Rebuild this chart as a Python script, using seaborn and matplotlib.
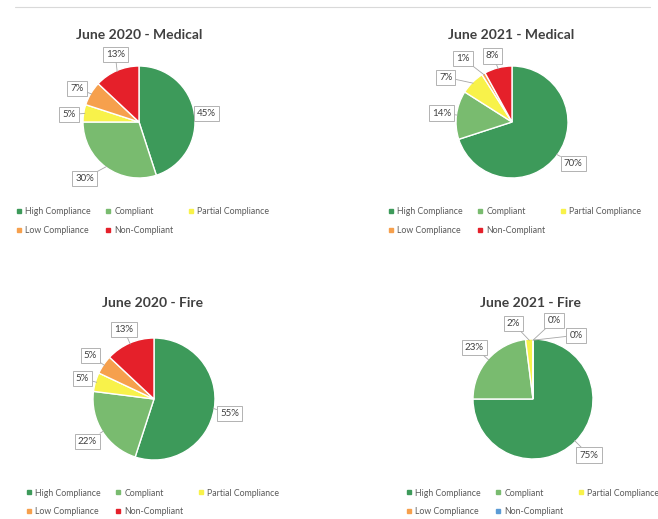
import matplotlib
matplotlib.use("Agg")
import matplotlib.pyplot as plt
from matplotlib.lines import Line2D
import seaborn as sns
import numpy as np

# ---------------- data ----------------
categories = ["High Compliance", "Compliant", "Partial Compliance",
              "Low Compliance", "Non-Compliant"]
titles = ["June 2020 - Medical", "June 2021 - Medical",
          "June 2020 - Fire", "June 2021 - Fire"]
medical_2020 = [45, 30, 5, 7, 13]
medical_2021 = [70, 14, 7, 1, 8]
fire_2020 = [55, 22, 5, 5, 13]
fire_2021 = [75, 23, 2, 0, 0]
series = [medical_2020, medical_2021, fire_2020, fire_2021]

# ---------------- style ----------------
sns.set_theme(style="white")
plt.rcParams['font.family'] = ['Lato', 'DejaVu Sans']

base_colors = ["#3d9a5a", "#79bb6f", "#f8f24a", "#f6a04d", "#e5202a"]
fire21_colors = ["#3d9a5a", "#79bb6f", "#f8f24a", "#f6a04d", "#5b9bd5"]
palettes = [base_colors, base_colors, base_colors, fire21_colors]

W, H = 658, 519
fig = plt.figure(figsize=(W / 100, H / 100), dpi=100)
fig.patch.set_facecolor("white")

# panel layout in pixels: pie centre, radius, title pos, legend pos
centers = [(139, 122), (512, 122), (154, 399), (533, 399)]
radii = [56, 56, 61, 60]
title_pos = [(139, 35), (511, 35), (153, 303), (531, 303)]
legend_pos = [(13, 204), (385, 204), (23, 485), (403, 485)]
# label radial distance (in radii) and angular nudges (deg)
label_r = [[1.21, 1.40, 1.26, 1.26, 1.28],
           [1.32, 1.27, 1.43, 1.43, 1.23],
           [1.26, 1.29, 1.22, 1.26, 1.24],
           [1.32, 1.30, 1.30, 1.35, 1.28]]
label_dt = [[-2, -8, 3, 2, -4],
            [2, 0, 11, 7, 2],
            [-2, 0, 0, 0, 0],
            [0, 0, 11, -15, -34]]

lim = 1.7
for i, vals in enumerate(series):
    cx, cy = centers[i]
    r = radii[i]
    half = lim * r
    ax = fig.add_axes([(cx - half) / W, (H - cy - half) / H, 2 * half / W, 2 * half / H])
    wedges, _ = ax.pie(vals, colors=palettes[i], startangle=90, counterclock=False,
                       wedgeprops=dict(edgecolor="white", linewidth=1.0))
    ax.set_xlim(-lim, lim)
    ax.set_ylim(-lim, lim)
    ax.set_aspect("equal")
    ax.axis("off")
    for j, w in enumerate(wedges):
        mid = (w.theta1 + w.theta2) / 2.0
        ang = np.deg2rad(mid + label_dt[i][j])
        rr = label_r[i][j]
        tx, ty = rr * np.cos(ang), rr * np.sin(ang)
        ex, ey = np.cos(np.deg2rad(mid)), np.sin(np.deg2rad(mid))
        ax.annotate(f"{vals[j]}%", xy=(ex * 0.98, ey * 0.98), xytext=(tx, ty),
                    ha="center", va="center", fontsize=7, color="#404040",
                    bbox=dict(boxstyle="square,pad=0.32", fc="white", ec="#a6a6a6", lw=0.6),
                    arrowprops=dict(arrowstyle="-", color="#a6a6a6", lw=0.6,
                                    shrinkA=0, shrinkB=0),
                    annotation_clip=False)
    fig.text(title_pos[i][0] / W, 1 - title_pos[i][1] / H, titles[i],
             ha="center", va="center", fontsize=10, fontweight="bold", color="#404040")

    handles = [Line2D([0], [0], marker="s", linestyle="", markersize=3.2,
                      markerfacecolor=c, markeredgecolor=c) for c in palettes[i]]
    order = [0, 3, 1, 4, 2]
    lx, ly = legend_pos[i]
    fig.legend([handles[k] for k in order], [categories[k] for k in order],
               ncol=3, loc="upper left", bbox_to_anchor=(lx / W, 1 - ly / H),
               frameon=False, fontsize=6.3, handlelength=0.6, handletextpad=0.4,
               columnspacing=1.7, labelspacing=1.1, borderaxespad=0,
               labelcolor="#595959")

# faint scan line at top
fig.add_artist(Line2D([15 / W, 650 / W], [1 - 7 / H, 1 - 7 / H], color="#d9d9d9", lw=0.8))

fig.savefig("out.png", dpi=100, facecolor="white")
